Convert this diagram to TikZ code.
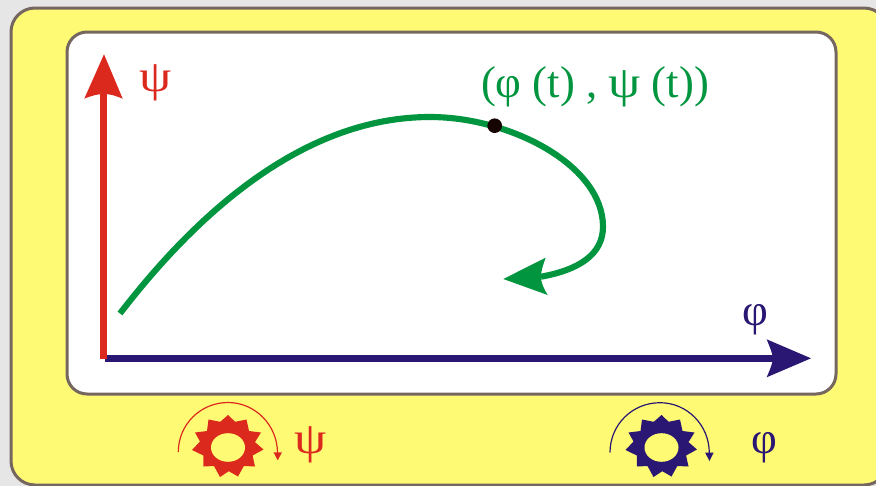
\documentclass[tikz,border=0pt]{standalone}
\usepackage{fontspec}
\usepackage{graphicx}
\setmainfont{Liberation Serif}
\definecolor{bgGray}{HTML}{E6E6E6}
\definecolor{panelYellow}{HTML}{FFFA74}
\definecolor{edgeGray}{HTML}{75675F}
\definecolor{axRed}{HTML}{DC291E}
\definecolor{axBlue}{HTML}{2A1773}
\definecolor{curveGreen}{HTML}{00953E}
\newcommand{\widepsi}{\scalebox{1.15}[1]{ψ}}
\tikzset{
  panel/.style={draw=edgeGray,line width=3pt*0.75},
  lbl/.style={inner sep=0pt,outer sep=0pt,font=\fontsize{33.5}{36}\selectfont},
}
\newcommand{\gearshape}[2]{%
  \begin{scope}[shift={(#1,446)}]
  \fill[#2] (0,-31) -- (7.2,-24.2) -- (18.5,-26.5) -- (21,-15) -- (33,-13.5) -- (27,-3.9) -- (35.5,3.5) -- (24.6,9.5) -- (27,20.5) -- (15.8,20) -- (10,30.5) -- (0.8,25.2) -- (-8,31) -- (-14,20) -- (-24.5,20.5) -- (-24.6,9.5) -- (-36,4) -- (-28,-4.5) -- (-33,-13.5) -- (-21,-15) -- (-19.5,-26.5) -- (-7.7,-24.2) -- cycle;
  \fill[panelYellow] (0,1.5) ellipse [x radius=17, y radius=14.3];
  \end{scope}}
\begin{document}
\begin{tikzpicture}[x=0.75pt,y=-0.75pt]
\useasboundingbox (0,0) rectangle (876,486);
\clip (0,0) rectangle (876,486);
\fill[bgGray] (0,0) rectangle (876,486);
\draw[panel,fill=panelYellow,rounded corners=18pt] (11,8) rectangle (888,485);
\draw[panel,fill=white,rounded corners=15pt] (67,32) rectangle (836,394);
% axes
\fill[axBlue] (105,354.6) rectangle (773,362);
\fill[axBlue] (811,358.3) -- (766.7,339.3) .. controls (771,350) and (772.7,354) .. (772.7,358.3) .. controls (772.7,363) and (771,367) .. (766.7,377.3) -- cycle;
\fill[axRed] (100.3,359.3) rectangle (107.3,94);
\fill[axRed] (104,54.3) -- (122.7,98.7) .. controls (115,95.5) and (110,94) .. (104,94) .. controls (98,94) and (92,95.5) .. (84.3,98.7) -- cycle;
% curve
\draw[curveGreen,line width=4.6pt] (120,313.5) .. controls (215,190) and (320,117) .. (430,117) .. controls (510,117) and (603,165) .. (603,226.7) .. controls (603,255) and (578,270) .. (541,276.7);
\fill[curveGreen] (503.3,279) -- (545.7,257.7) .. controls (543,265) and (541,271) .. (541,276.7) .. controls (541,283) and (544,289) .. (547.7,295) -- cycle;
\fill[black!90!axRed] (494.7,125.7) circle [radius=7.3];
% labels
\node[lbl,text=axRed] (psiaxis) at (155.5,83) {\widepsi};
\node[lbl,text=axBlue] (phiaxis) at (755,320) {φ};
\node[lbl,text=curveGreen] (pointlabel) at (595,87) {(φ (t) , \widepsi{} (t))};
\node[lbl,text=axRed] (psigear) at (310.5,444.5) {\widepsi};
\node[lbl,text=axBlue] (phigear) at (764,448) {φ};
% gears
\gearshape{228}{axRed}
\gearshape{661.5}{axBlue}
\draw[axRed,line width=0.9pt] (178.3,452) .. controls (178.3,424.6) and (200.5,402.5) .. (228,402.5) .. controls (255,402.5) and (277.5,425) .. (277.5,453);
\fill[axRed] (273.5,452.3) -- (282,452.3) -- (277.7,460.3) -- cycle;
\draw[axBlue,line width=0.9pt] (610,452.5) .. controls (610,425) and (632,402.7) .. (660,402.7) .. controls (687,402.7) and (709.3,425) .. (709.3,453);
\fill[axBlue] (705.2,452.7) -- (713.6,452.7) -- (709.4,461) -- cycle;
\end{tikzpicture}
\end{document}
